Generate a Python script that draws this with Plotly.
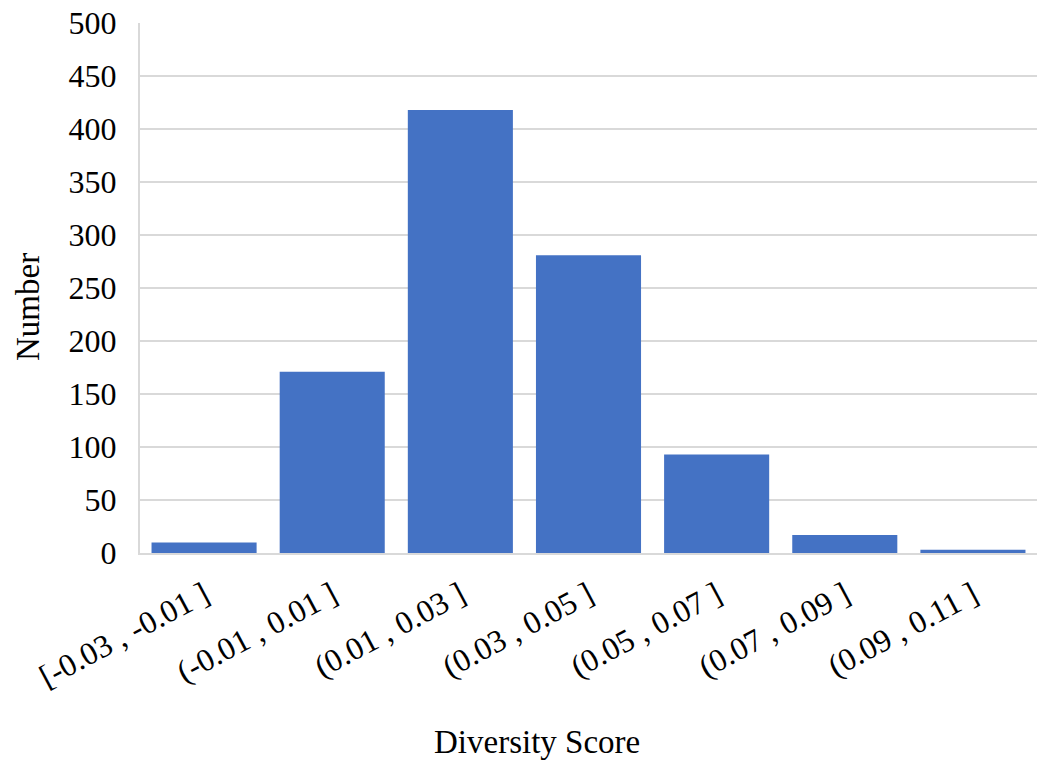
import plotly.graph_objects as go

categories = ["[-0.03 , -0.01 ]", "(-0.01 , 0.01 ]", "(0.01 , 0.03 ]", "(0.03 , 0.05 ]",
              "(0.05 , 0.07 ]", "(0.07 , 0.09 ]", "(0.09 , 0.11 ]"]
counts = [10, 171, 418, 281, 93, 17, 3]
y_ticks = [0, 50, 100, 150, 200, 250, 300, 350, 400, 450, 500]

FONT = "Liberation Serif, Times New Roman, serif"

fig = go.Figure(go.Bar(x=categories, y=counts, marker=dict(color="#4472C4", line=dict(width=0))))

L, R, T, B = 140, 7, 23, 210
PW = 1044 - L - R
PH = 763 - T - B
fig.update_layout(
    width=1044, height=763,
    margin=dict(l=L, r=R, t=T, b=B, autoexpand=False),
    plot_bgcolor="white", paper_bgcolor="white",
    bargap=0.18,
    showlegend=False,
    font=dict(family=FONT, size=32, color="black"),
    xaxis=dict(
        tickangle=-28, showgrid=False, showline=True, linecolor="#d9d9d9", linewidth=2,
        ticks="", tickfont=dict(family=FONT, size=32, color="black"), ticklabelstandoff=9,
        automargin=False,
    ),
    yaxis=dict(
        range=[0, 500], tickvals=y_ticks, showgrid=True, gridcolor="#d9d9d9", gridwidth=2,
        showline=True, linecolor="#d9d9d9", linewidth=2, zeroline=False, ticks="",
        tickfont=dict(family=FONT, size=32, color="black"), ticklabelstandoff=15,
        automargin=False,
    ),
    annotations=[
        dict(text="Diversity Score", xref="paper", yref="paper", x=(537 - L) / PW,
             y=-(742 - (T + PH)) / PH, xanchor="center", yanchor="middle", showarrow=False,
             font=dict(family=FONT, size=33, color="black")),
        dict(text="Number", xref="paper", yref="paper", x=-(L - 28) / PW,
             y=((T + PH) - 307) / PH, xanchor="center", yanchor="middle", showarrow=False,
             textangle=-90, font=dict(family=FONT, size=33, color="black")),
    ],
)

fig.write_html("out.html", config={"displayModeBar": False},
               post_script="document.body.style.margin='0';document.body.style.overflow='hidden';")
